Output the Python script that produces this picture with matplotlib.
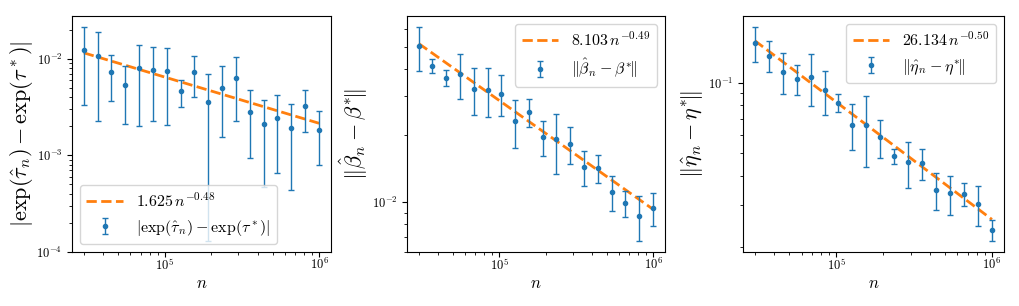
import matplotlib
matplotlib.use("Agg")
import matplotlib.pyplot as plt
import numpy as np
from matplotlib.ticker import NullFormatter

plt.rcParams['mathtext.fontset'] = 'cm'
plt.rcParams['font.family'] = 'serif'
plt.rcParams['font.serif'] = ['cmr10', 'DejaVu Serif']
plt.rcParams['axes.formatter.use_mathtext'] = True

# sample sizes
n = [30000, 36870, 45310, 55680, 68430, 84100, 103350, 127010, 156090,
     191830, 235750, 289720, 356050, 437570, 537750, 660860, 812170, 1000000]

# |exp(tau_hat) - exp(tau*)|
tau_err = [0.0124, 0.01066, 0.00727, 0.00532, 0.0080, 0.00774, 0.00744, 0.00461, 0.00727,
           0.00357, 0.00496, 0.00634, 0.00281, 0.00211, 0.00245, 0.00192, 0.00324, 0.00184]
tau_std = [0.0091, 0.0084, 0.00365, 0.0032, 0.0060, 0.0055, 0.0054, 0.00144, 0.0033,
           0.00344, 0.0034, 0.0041, 0.00188, 0.00164, 0.0018, 0.00148, 0.00152, 0.00104]
tau_fit = (1.625, -0.48)

# ||beta_hat - beta*||
beta_err = [0.0504, 0.0412, 0.0363, 0.0378, 0.0324, 0.0322, 0.0309, 0.0232, 0.0255,
            0.0197, 0.0192, 0.0184, 0.0144, 0.01426, 0.01113, 0.0099, 0.00868, 0.00943]
beta_std = [0.0113, 0.0030, 0.0030, 0.0087, 0.0077, 0.0079, 0.0064, 0.0056, 0.0037,
            0.0036, 0.0058, 0.0035, 0.0026, 0.0020, 0.0020, 0.0013, 0.0020, 0.0016]
beta_fit = (8.103, -0.49)

# ||eta_hat - eta*||
eta_err = [0.1477, 0.1304, 0.1114, 0.1040, 0.1057, 0.0927, 0.0821, 0.0661, 0.0657,
           0.0584, 0.0486, 0.0458, 0.0453, 0.0349, 0.0338, 0.0335, 0.0305, 0.0236]
eta_std = [0.0252, 0.0198, 0.0221, 0.0150, 0.0264, 0.0198, 0.0071, 0.0147, 0.0220,
           0.0106, 0.0036, 0.0102, 0.0067, 0.0063, 0.0064, 0.0037, 0.0059, 0.0025]
eta_fit = (26.134, -0.50)

panels = [
    (tau_err, tau_std, tau_fit, r'$|\exp(\hat{\tau}_n) - \exp(\tau^*)|$', 'lower left',
     [0.0707, 0.1765, 0.254, 0.771], 1e-4),
    (beta_err, beta_std, beta_fit, r'$\Vert\hat{\beta}_n - \beta^{*}\!\Vert$', 'upper right',
     [0.3994, 0.1765, 0.253, 0.771], None),
    (eta_err, eta_std, eta_fit, r'$\Vert\hat{\eta}_n - \eta^{*}\!\Vert$', 'upper right',
     [0.7291, 0.1765, 0.256, 0.771], None),
]

fig = plt.figure(figsize=(10.19, 3.06), dpi=100)
x = np.array(n, dtype=float)
for err, std, fit, lab, loc, rect, ybot in panels:
    ax = fig.add_axes(rect)
    a, b = fit
    ax.plot(x, a * x ** b, '--', color='C1', lw=2, label=r'$%.3f\,n^{%.2f}$' % (a, b))
    ax.errorbar(x, err, yerr=std, fmt='.', color='C0', ms=6, elinewidth=1, capsize=2, label=lab)
    ax.set_xscale('log')
    ax.set_yscale('log')
    if ybot is not None:
        ax.set_ylim(bottom=ybot * 0.99)
    ax.yaxis.set_minor_formatter(NullFormatter())
    ax.set_xlabel(r'$n$', fontsize=12, labelpad=2)
    ax.set_ylabel(lab, fontsize=16, labelpad=1)
    ax.tick_params(labelsize=9)
    ax.tick_params(axis='x', pad=0)
    ax.legend(loc=loc, fontsize=11.5, handlelength=2.3)

fig.savefig('out.png', dpi=100)
